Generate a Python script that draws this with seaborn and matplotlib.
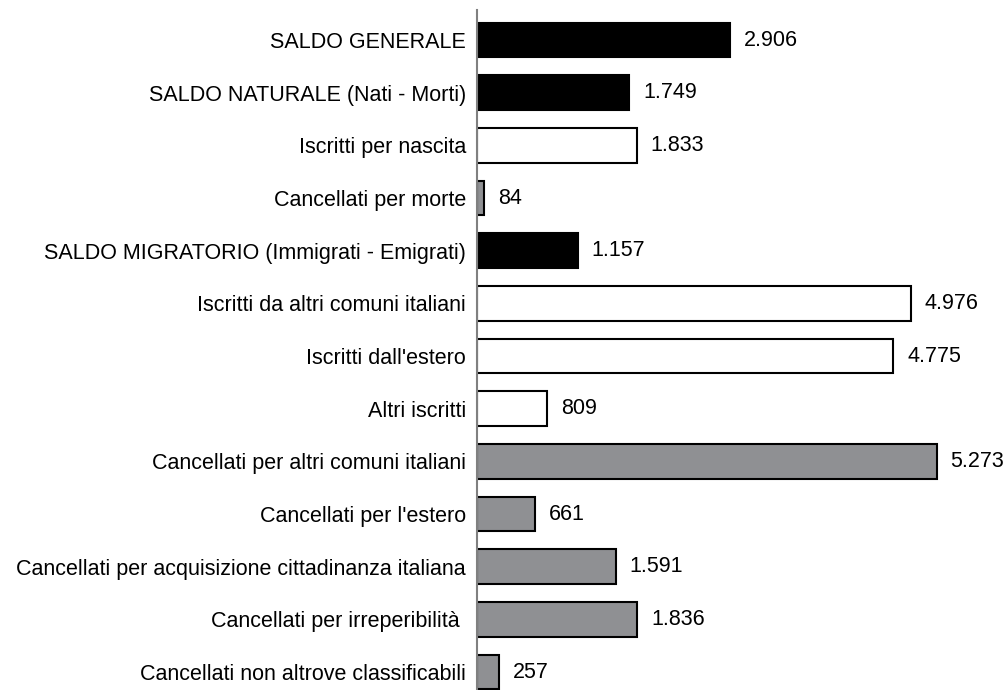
import matplotlib
matplotlib.use("Agg")
import matplotlib.pyplot as plt
import seaborn as sns
import pandas as pd

# data
labels = [
    "SALDO GENERALE",
    "SALDO NATURALE (Nati - Morti)",
    "Iscritti per nascita",
    "Cancellati per morte",
    "SALDO MIGRATORIO (Immigrati - Emigrati)",
    "Iscritti da altri comuni italiani",
    "Iscritti dall'estero",
    "Altri iscritti",
    "Cancellati per altri comuni italiani",
    "Cancellati per l'estero",
    "Cancellati per acquisizione cittadinanza italiana",
    "Cancellati per irreperibilità ",
    "Cancellati non altrove classificabili",
]
values = [2906, 1749, 1833, 84, 1157, 4976, 4775, 809, 5273, 661, 1591, 1836, 257]
kinds = ["saldo", "saldo", "iscritti", "cancellati", "saldo", "iscritti", "iscritti",
         "iscritti", "cancellati", "cancellati", "cancellati", "cancellati", "cancellati"]

colors = {"saldo": "#000000", "iscritti": "#ffffff", "cancellati": "#8e9094"}

df = pd.DataFrame({"label": labels, "value": values, "kind": kinds})

sns.set_style("white")
plt.rcParams["font.family"] = ["Liberation Sans", "DejaVu Sans"]
plt.rcParams["text.color"] = "black"
plt.rcParams["ytick.color"] = "black"

fig = plt.figure(figsize=(10.05, 6.9), dpi=100)
ax = fig.add_axes([0.4746, 0.0, 0.5204, 680 / 690])

sns.barplot(data=df, y="label", x="value", hue="kind", palette=colors, dodge=False,
            orient="h", width=0.66, edgecolor="black", linewidth=1.5, legend=False, ax=ax)

for i, v in enumerate(values):
    ax.text(v + 160, i, f"{v:,}".replace(",", "."), va="center", ha="left",
            fontsize=15.5, color="black")

ax.set_xlim(0, 6000)
ax.set_ylim(12.34, -0.57)
ax.set_xlabel("")
ax.set_ylabel("")
ax.set_xticks([])
ax.tick_params(axis="y", length=0, pad=8, labelsize=15.5, labelcolor="black")
for s in ["top", "right", "bottom"]:
    ax.spines[s].set_visible(False)
ax.spines["left"].set_color("#808080")
ax.spines["left"].set_linewidth(1.5)

fig.savefig("out.png", dpi=100)
